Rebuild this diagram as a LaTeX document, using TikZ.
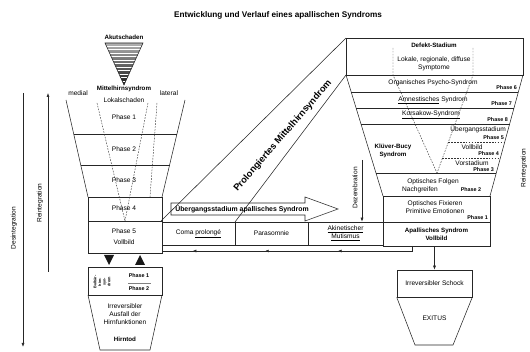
\documentclass[tikz,border=0pt]{standalone}
\usepackage{fontspec}
\setmainfont{Liberation Sans}
\usetikzlibrary{arrows.meta,decorations.markings}
\begin{document}
\begin{tikzpicture}[x=1pt,y=-1pt,
  txt/.style={inner sep=0pt,align=center,font=\fontsize{6.6}{7.8}\selectfont},
  btxt/.style={inner sep=0pt,align=center,font=\fontsize{6.2}{7.8}\selectfont\bfseries},
  ptxt/.style={inner sep=0pt,font=\fontsize{5.4}{6.5}\selectfont\bfseries},
  ln/.style={line width=0.55pt,draw=black!85},
  dsh/.style={line width=0.45pt,draw=black!80,dash pattern=on 1.6pt off 1.3pt},
  tip/.style={-{Latex[length=4pt,width=3pt]}},
  cell/.style={draw=black!85,line width=0.55pt,inner sep=0pt,align=center,font=\fontsize{6.6}{7.8}\selectfont},
]
\useasboundingbox (0,0) rectangle (530,352);
\node[inner sep=0pt,font=\fontsize{8.2}{9}\selectfont\bfseries] (title) at (278,15) {Entwicklung und Verlauf eines apallischen Syndroms};

% side arrows
\coordinate (dA) at (23,93); \coordinate (dB) at (23,347);
\draw[ln,tip] (dA) -- (dB);
\node[txt,rotate=90] (desint) at (14,228) {Desintegration};
\coordinate (rA) at (48,272); \coordinate (rB) at (48,93);
\draw[ln,tip] (rA) -- (rB);
\node[txt,rotate=90] (reint) at (40,203) {Reintegration};
\node[txt,rotate=90] (reint2) at (524,168) {Reintegration};

% Akutschaden triangle
\node[btxt] (akut) at (124,37) {Akutschaden};
\shade[top color=black!30,bottom color=black!90] (105,43) -- (143,43) -- (124,85) -- cycle;
\begin{scope}
\clip (105,43) -- (143,43) -- (124,85) -- cycle;
\foreach \yy in {46,49.5,...,84} \draw[white,line width=0.6pt] (100,\yy) -- (150,\yy);
\end{scope}
\draw[ln] (105,43) -- (143,43) -- (124,85) -- cycle;

% left funnel
\node[btxt] (mhs) at (124,89) {Mittelhirnsyndrom};
\node[txt] (lok) at (124,100) {Lokalschaden};
\node[txt] (med) at (78,93) {medial};
\node[txt] (lat) at (169,93) {lateral};
\draw[ln] (66,100) -- (88,197);
\draw[ln] (185,100) -- (162,197);
\draw[ln] (73.7,134) -- (177,134);
\draw[ln] (80.7,165) -- (169.6,165);
\node[cell,minimum width=74pt,minimum height=56pt] (lbox) at (125,225) {};
\draw[ln] (88,221) -- (162,221);
\draw[dsh] (97,103) -- (125,221);
\draw[dsh] (148,103) -- (125,221);
\draw[dsh] (157,103) -- (150,197);
\node[txt] (lp1) at (124,117) {Phase 1};
\node[txt] (lp2) at (124,149) {Phase 2};
\node[txt] (lp3) at (124,180) {Phase 3};
\node[txt] (lp4) at (124,208) {Phase 4};
\node[txt] (lp5) at (124,231) {Phase 5};
\node[txt] (lvb) at (124,242) {Vollbild};

% triangles
\fill[black!90] (104,255) -- (114,255) -- (109,265) -- cycle;
\fill[black!90] (135,265) -- (145,265) -- (140,255) -- cycle;

% bottom left
\node[cell,minimum width=74pt,minimum height=28pt] (bbox) at (125,281) {};
\node[inner sep=0pt,rotate=90,align=center,font=\fontsize{3.8}{4.6}\selectfont\bfseries] (bulb) at (102,282) {Bulbär-\\hirn-\\syn-\\drom};
\node[ptxt] (bp1) at (139,276) {Phase 1};
\draw[black!50,line width=0.4pt] (128,283) -- (151,283);
\node[ptxt] (bp2) at (139,289) {Phase 2};
\draw[ln] (88,295) -- (100,350) -- (150,350) -- (162,295);
\node[txt] (irr) at (125,314) {Irreversibler\\Ausfall der\\Hirnfunktionen};
\node[btxt] (tod) at (125,339) {Hirntod};

% band
\draw[ln] (161,221) -- (346,38);
\draw[ln] (235,222) -- (346,75);
\node[inner sep=0pt,rotate=49,font=\fontsize{9.3}{10}\selectfont\bfseries] (prolong) at (283,136) {Prolongiertes Mittelhirnsyndrom};

% arrow
\draw[ln] (171,203) -- (305,203) -- (305,197) -- (338,209) -- (305,221) -- (305,215) -- (171,215) -- cycle;
\node[inner sep=0pt,font=\fontsize{6.9}{7.5}\selectfont\bfseries] (ueb) at (242,209) {Übergangsstadium apallisches Syndrom};

% row cells
\node[cell,minimum width=73pt,minimum height=23pt] (coma) at (198.5,233.5) {Coma \underline{prolongé}};
\node[cell,minimum width=73pt,minimum height=23pt] (para) at (271.5,233.5) {Parasomnie};
\node[cell,minimum width=75pt,minimum height=23pt] (akin) at (345.5,233.5) {\underline{Akinetischer}\\\underline{Mutismus}};

% Dezerebration
\coordinate (dzA) at (362,160);
\draw[ln,tip] (dzA) -- (dzA |- akin.north);
\node[txt,rotate=90] (dez) at (355,188) {Dezerebration};

% right funnel
\draw[ln] (346,38) rectangle (523,75);
\draw[ln] (346,75) -- (383,196);
\draw[ln] (523,75) -- (490,196);
\draw[ln] (351.2,92) -- (518.4,92);
\draw[ln] (356.1,108) -- (514.0,108);
\draw[ln] (361,124) -- (509.6,124);
\draw[ln] (376,173) -- (496.3,173);
\draw[dsh] (393,48) -- (393,75) -- (437,173);
\draw[dsh] (473,48) -- (473,75) -- (437,173);
\draw[dsh] (448.4,142) -- (504.8,142);
\draw[dsh] (442.4,158.5) -- (500.2,158.5);

\node[btxt] (defekt) at (434,45) {Defekt-Stadium};
\node[txt] (lokale) at (434,63.5) {Lokale, regionale, diffuse\\Symptome};
\node[txt] (org) at (433,83) {Organisches Psycho-Syndrom};
\node[ptxt,anchor=east] (ph6) at (517,87.5) {Phase 6};
\node[txt] (amn) at (433,100) {\underline{Amnestisches} Syndrom};
\node[ptxt,anchor=east] (ph7) at (512,104) {Phase 7};
\node[txt] (kor) at (431,115) {\underline{Korsakow-Syndrom}};
\node[ptxt,anchor=east] (ph8) at (508,120) {Phase 8};
\node[txt,anchor=east] (ueg) at (506,129.5) {Übergangsstadium};
\node[ptxt,anchor=east] (ph5) at (504,137.5) {Phase 5};
\node[txt] (vb4) at (472,147) {Vollbild};
\node[ptxt,anchor=east] (ph4) at (499,154) {Phase 4};
\node[txt] (vor) at (472,163) {Vorstadium};
\node[ptxt,anchor=east] (ph3) at (494,169.5) {Phase 3};
\node[btxt] (kluever) at (393,151) {Klüver-Bucy\\Syndrom};
\node[txt] (folgen) at (433,182) {Optisches Folgen};
\node[txt] (nach) at (420,190) {Nachgreifen};
\node[ptxt] (ph2) at (471,190) {Phase 2};

\node[cell,minimum width=107pt,minimum height=26pt] (fix) at (436.5,209) {};
\node[txt] (fixt) at (435,207) {Optisches Fixieren\\Primitive Emotionen};
\node[ptxt,anchor=east] (ph1) at (488,218) {Phase 1};
\node[cell,minimum width=107pt,minimum height=24pt,font=\fontsize{6.2}{7.8}\selectfont\bfseries] (apal) at (436.5,234) {Apallisches Syndrom\\Vollbild};

% connectors from apallisches box
\coordinate (ap1) at (412,246);
\coordinate (lend) at (lbox.east |- 0,251);
\draw[ln,postaction={decorate},decoration={markings,
  mark=at position 0.31 with {\arrow{Latex[length=3.5pt,width=3pt]}},
  mark=at position 0.596 with {\arrow{Latex[length=3.5pt,width=3pt]}},
  mark=at position 0.88 with {\arrow{Latex[length=3.5pt,width=3pt]}}}]
  (ap1) |- (lend);

\node[cell,minimum width=75pt,minimum height=27pt] (schock) at (434.5,283.5) {Irreversibler Schock};
\draw[ln,tip] (apal.south -| schock.north) -- (schock.north);
\draw[ln] (schock.south west) -- (415,345) -- (453,345) -- (schock.south east);
\node[txt] (exitus) at (434.5,318) {EXITUS};
\end{tikzpicture}
\end{document}
